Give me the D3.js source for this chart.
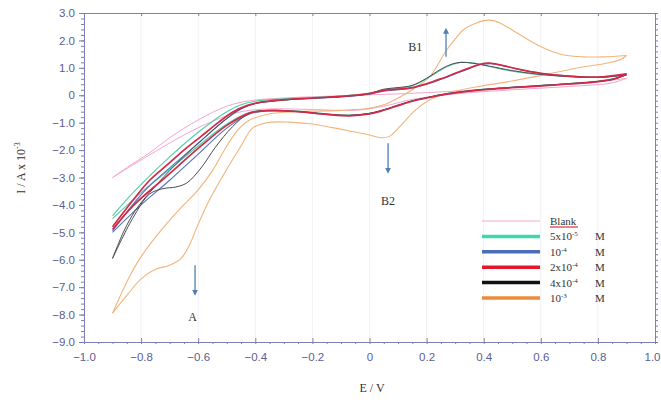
<!DOCTYPE html>
<html>
<head>
<meta charset="utf-8">
<script src="https://cdn.jsdelivr.net/npm/d3@7"></script>
<style>
  body { margin: 0; background: #fff; }
  svg { display: block; }
  .tick text { font-family: "Liberation Sans", Arial, sans-serif; font-size: 11.5px; fill: #5a5e94; }
  .serif { font-family: "Liberation Serif", "Times New Roman", serif; fill: #333; }
</style>
</head>
<body>
<script>
// cyclic voltammograms: [E (V), I (A x 10^-3)]
const blankAnodic = [[-0.9,-3.0],[-0.83,-2.5],[-0.77,-2.1],[-0.7,-1.55],[-0.6,-0.9],[-0.5,-0.4],[-0.42,-0.2],[-0.3,-0.1],[-0.1,-0.02],[0.1,0.05],[0.3,0.15],[0.5,0.28],[0.7,0.4],[0.8,0.48],[0.9,0.62]];
const blankCathodic = [[0.9,0.62],[0.85,0.45],[0.7,0.32],[0.5,0.2],[0.3,0.05],[0.15,-0.15],[0.05,-0.4],[-0.05,-0.55],[-0.2,-0.52],[-0.35,-0.5],[-0.45,-0.6],[-0.55,-0.95],[-0.65,-1.45],[-0.75,-2.05],[-0.83,-2.55],[-0.9,-3.0]];

const tealAnodic = [[-0.9,-4.4],[-0.85,-3.8],[-0.8,-3.25],[-0.7,-2.25],[-0.6,-1.35],[-0.5,-0.6],[-0.45,-0.35],[-0.4,-0.22],[-0.3,-0.13],[-0.2,-0.08],[-0.1,-0.03],[0,0.08],[0.05,0.2],[0.1,0.25],[0.15,0.35],[0.2,0.6],[0.25,0.92],[0.29,1.12],[0.32,1.2],[0.36,1.18],[0.42,1.05],[0.5,0.88],[0.6,0.75],[0.7,0.68],[0.8,0.66],[0.9,0.76]];
const tealCathodic = [[0.9,0.76],[0.85,0.6],[0.8,0.52],[0.7,0.43],[0.6,0.36],[0.45,0.26],[0.35,0.17],[0.27,0.06],[0.2,-0.08],[0.15,-0.2],[0.1,-0.36],[0.04,-0.56],[0,-0.66],[-0.07,-0.72],[-0.15,-0.68],[-0.25,-0.58],[-0.35,-0.55],[-0.42,-0.62],[-0.5,-1.05],[-0.6,-1.85],[-0.7,-2.7],[-0.8,-3.55],[-0.9,-4.5]];

const blueAnodic = [[-0.9,-4.95],[-0.83,-4.0],[-0.77,-3.3],[-0.7,-2.65],[-0.6,-1.75],[-0.5,-0.85],[-0.45,-0.5],[-0.4,-0.3],[-0.3,-0.18],[-0.2,-0.12],[-0.1,-0.06],[0,0.04],[0.05,0.15],[0.1,0.2],[0.15,0.27],[0.2,0.4],[0.25,0.58],[0.3,0.78],[0.35,0.98],[0.39,1.12],[0.43,1.15],[0.47,1.08],[0.52,0.95],[0.6,0.8],[0.7,0.7],[0.8,0.65],[0.9,0.75]];
const blueCathodic = [[0.9,0.75],[0.85,0.58],[0.8,0.5],[0.7,0.42],[0.6,0.35],[0.45,0.25],[0.35,0.16],[0.27,0.05],[0.2,-0.09],[0.15,-0.21],[0.1,-0.37],[0.04,-0.57],[0,-0.67],[-0.07,-0.74],[-0.15,-0.7],[-0.25,-0.6],[-0.35,-0.57],[-0.42,-0.68],[-0.5,-1.2],[-0.6,-2.15],[-0.7,-3.1],[-0.8,-4.0],[-0.9,-5.0]];

const redAnodic = [[-0.9,-4.8],[-0.83,-3.85],[-0.77,-3.1],[-0.71,-2.55],[-0.65,-2.0],[-0.59,-1.5],[-0.53,-1.0],[-0.48,-0.62],[-0.43,-0.38],[-0.38,-0.25],[-0.3,-0.16],[-0.2,-0.1],[-0.1,-0.04],[0,0.06],[0.05,0.18],[0.1,0.22],[0.15,0.28],[0.2,0.42],[0.25,0.6],[0.3,0.8],[0.35,1.0],[0.39,1.14],[0.42,1.17],[0.46,1.1],[0.52,0.95],[0.6,0.8],[0.7,0.7],[0.8,0.66],[0.9,0.78]];
const redCathodic = [[0.9,0.78],[0.86,0.6],[0.8,0.5],[0.7,0.41],[0.6,0.34],[0.45,0.24],[0.35,0.15],[0.27,0.04],[0.2,-0.1],[0.15,-0.22],[0.1,-0.38],[0.04,-0.58],[0,-0.68],[-0.07,-0.75],[-0.15,-0.7],[-0.25,-0.6],[-0.35,-0.56],[-0.42,-0.65],[-0.5,-1.1],[-0.59,-1.85],[-0.71,-2.95],[-0.83,-4.05],[-0.9,-4.9]];

const blackAnodic = [[-0.9,-5.95],[-0.86,-4.95],[-0.82,-4.2],[-0.77,-3.55],[-0.7,-2.75],[-0.6,-1.75],[-0.5,-0.85],[-0.45,-0.48],[-0.4,-0.3],[-0.3,-0.17],[-0.2,-0.11],[-0.1,-0.05],[0,0.06],[0.05,0.22],[0.1,0.28],[0.15,0.36],[0.2,0.62],[0.25,0.95],[0.29,1.14],[0.32,1.2],[0.36,1.17],[0.42,1.06],[0.5,0.9],[0.6,0.76],[0.7,0.68],[0.8,0.65],[0.9,0.74]];
const blackCathodic = [[0.9,0.74],[0.85,0.57],[0.8,0.5],[0.7,0.42],[0.6,0.35],[0.45,0.25],[0.35,0.16],[0.27,0.05],[0.2,-0.09],[0.15,-0.2],[0.1,-0.37],[0.04,-0.56],[0,-0.66],[-0.07,-0.73],[-0.15,-0.69],[-0.25,-0.59],[-0.35,-0.55],[-0.42,-0.65],[-0.48,-1.15],[-0.54,-1.9],[-0.59,-2.65],[-0.64,-3.2],[-0.68,-3.35],[-0.72,-3.4],[-0.77,-3.6],[-0.83,-4.5],[-0.9,-5.95]];

const orangeAnodic = [[-0.9,-7.95],[-0.87,-7.25],[-0.84,-6.6],[-0.81,-6.05],[-0.77,-5.45],[-0.72,-4.8],[-0.66,-4.1],[-0.6,-3.45],[-0.55,-2.75],[-0.5,-1.85],[-0.46,-1.25],[-0.42,-0.9],[-0.36,-0.7],[-0.3,-0.62],[-0.2,-0.58],[-0.1,-0.55],[0,-0.48],[0.05,-0.35],[0.1,-0.1],[0.15,0.2],[0.21,0.67],[0.27,1.65],[0.3,2.05],[0.33,2.4],[0.37,2.62],[0.42,2.74],[0.46,2.62],[0.5,2.38],[0.56,2.0],[0.62,1.68],[0.68,1.47],[0.75,1.4],[0.82,1.4],[0.9,1.45]];
const orangeCathodic = [[0.9,1.45],[0.88,1.3],[0.82,1.15],[0.74,1.02],[0.62,0.76],[0.5,0.52],[0.4,0.35],[0.3,0.15],[0.22,-0.12],[0.16,-0.55],[0.11,-1.1],[0.07,-1.5],[0.04,-1.55],[0,-1.45],[-0.06,-1.32],[-0.13,-1.18],[-0.2,-1.05],[-0.28,-0.98],[-0.36,-1.0],[-0.41,-1.2],[-0.45,-1.85],[-0.5,-2.7],[-0.56,-3.8],[-0.6,-4.7],[-0.63,-5.45],[-0.66,-5.95],[-0.7,-6.2],[-0.75,-6.35],[-0.8,-6.7],[-0.85,-7.3],[-0.9,-7.95]];

// legend entries: [base, exponent]
const legendLabels = [["Blank", null], ["5x10", "-5"], ["10", "-4"], ["2x10", "-4"], ["4x10", "-4"], ["10", "-3"]];
const legendColors = ["#f4a6cc", "#3fd6b0", "#4a6fb8", "#e4162a", "#111111", "#ee8c3c"];

const xTicks = [-1.0, -0.8, -0.6, -0.4, -0.2, 0, 0.2, 0.4, 0.6, 0.8, 1.0];
const yTicks = [3, 2, 1, 0, -1, -2, -3, -4, -5, -6, -7, -8, -9];

const width = 661, height = 408;
const plotLeft = 84, plotRight = 655, plotTop = 13, plotBottom = 342;

const svg = d3.select("body").append("svg")
    .attr("width", width)
    .attr("height", height);

const x = d3.scaleLinear().domain([-1, 1]).range([plotLeft, plotRight]);
const y = d3.scaleLinear().domain([-9, 3]).range([plotBottom, plotTop]);

const axisColor = "#7b7fb2";
const fmt = d => d === 0 ? "0" : d3.format(".1f")(d);

//faint vertical grid
svg.append("g")
    .selectAll("line")
    .data(xTicks.slice(1, -1))
    .enter().append("line")
    .attr("x1", d => x(d)).attr("x2", d => x(d))
    .attr("y1", plotTop).attr("y2", plotBottom)
    .attr("stroke", "#f1f1f6");

//curves, each loop = anodic + cathodic sweep
const line = d3.line()
    .x(d => x(d[0]))
    .y(d => y(d[1]))
    .curve(d3.curveCatmullRom.alpha(0.5));

const series = [
    {a: blankAnodic, c: blankCathodic, color: "#f4a6cc", w: 1},
    {a: orangeAnodic, c: orangeCathodic, color: "#f2b47c", w: 1.1},
    {a: tealAnodic, c: tealCathodic, color: "#4fcfa8", w: 1.1},
    {a: blueAnodic, c: blueCathodic, color: "#5574b6", w: 1.1},
    {a: blackAnodic, c: blackCathodic, color: "#4a4a52", w: 1},
    {a: redAnodic, c: redCathodic, color: "#cf2a48", w: 1.7}
];

const curves = svg.append("g").attr("fill", "none");
series.forEach(s => {
    curves.append("path").attr("d", line(s.a)).attr("stroke", s.color).attr("stroke-width", s.w);
    curves.append("path").attr("d", line(s.c)).attr("stroke", s.color).attr("stroke-width", s.w);
});

//axes
function styleAxis(g) {
    g.select(".domain").attr("stroke", axisColor);
    g.selectAll(".tick line").attr("stroke", axisColor);
}

const xMinor = d3.range(-1, 1.0001, 0.05);
const yMinor = d3.range(-9, 3.0001, 0.2);

svg.append("g")
    .attr("transform", `translate(0,${plotBottom})`)
    .call(d3.axisBottom(x).tickValues(xMinor).tickSize(2).tickFormat(""))
    .call(styleAxis);
const xAxis = svg.append("g")
    .attr("transform", `translate(0,${plotBottom})`)
    .call(d3.axisBottom(x).tickValues(xTicks).tickSize(-4).tickPadding(11).tickFormat(fmt))
    .call(styleAxis);
//last label sits on the window edge, nudge it inside
xAxis.selectAll(".tick text").filter(d => d === 1).attr("dx", -3);

svg.append("g")
    .attr("transform", `translate(0,${plotTop})`)
    .call(d3.axisTop(x).tickValues(xTicks).tickSize(-3).tickFormat(""))
    .call(styleAxis);

svg.append("g")
    .attr("transform", `translate(${plotLeft},0)`)
    .call(d3.axisLeft(y).tickValues(yMinor).tickSize(3).tickFormat(""))
    .call(styleAxis);
svg.append("g")
    .attr("transform", `translate(${plotLeft},0)`)
    .call(d3.axisLeft(y).tickValues(yTicks).tickSize(5).tickPadding(4).tickFormat(fmt))
    .call(styleAxis);

svg.append("g")
    .attr("transform", `translate(${plotRight},0)`)
    .call(d3.axisRight(y).tickValues(yMinor).tickSize(3).tickFormat(""))
    .call(styleAxis);

//axis titles
svg.append("text")
    .attr("class", "serif")
    .attr("x", 372).attr("y", 392)
    .attr("text-anchor", "middle")
    .attr("font-size", 12)
    .text("E / V");

const yt = svg.append("text")
    .attr("class", "serif")
    .attr("transform", "translate(25,168) rotate(-90)")
    .attr("text-anchor", "middle")
    .attr("font-size", 12);
yt.append("tspan").text("I / A x 10");
yt.append("tspan").attr("dy", -5).attr("font-size", 8).text("-3");

//peak markers
const arrowColor = "#4f7fb4";
svg.append("defs").append("marker")
    .attr("id", "head")
    .attr("viewBox", "0 0 10 10")
    .attr("refX", 5).attr("refY", 5)
    .attr("markerWidth", 6).attr("markerHeight", 6)
    .attr("markerUnits", "userSpaceOnUse")
    .attr("orient", "auto")
    .append("path")
    .attr("d", "M0,0 L10,5 L0,10 Z")
    .attr("fill", arrowColor);

const marks = [
    {label: "B1", ax: 0.268, y0: 1.4, y1: 2.35, tx: 0.16, ty: 1.6},
    {label: "B2", ax: 0.065, y0: -1.75, y1: -2.75, tx: 0.065, ty: -4.0},
    {label: "A", ax: -0.611, y0: -6.2, y1: -7.2, tx: -0.62, ty: -8.25}
];
marks.forEach(m => {
    svg.append("line")
        .attr("x1", x(m.ax)).attr("x2", x(m.ax))
        .attr("y1", y(m.y0)).attr("y2", y(m.y1))
        .attr("stroke", arrowColor)
        .attr("stroke-width", 1.3)
        .attr("marker-end", "url(#head)");
    svg.append("text")
        .attr("class", "serif")
        .attr("x", x(m.tx)).attr("y", y(m.ty))
        .attr("text-anchor", "middle")
        .attr("font-size", 12)
        .text(m.label);
});

//legend
const legendX = 482, legendY = 221, rowH = 15.4;
const legend = svg.append("g");
legendLabels.forEach((lab, i) => {
    const ly = legendY + i * rowH;
    legend.append("line")
        .attr("x1", legendX).attr("x2", legendX + 58)
        .attr("y1", ly).attr("y2", ly)
        .attr("stroke", legendColors[i])
        .attr("stroke-width", i === 0 ? 1 : 3.5);
    const t = legend.append("text")
        .attr("class", "serif")
        .attr("x", legendX + 68).attr("y", ly + 4)
        .attr("font-size", 11);
    t.append("tspan").text(lab[0]);
    if (lab[1]) {
        t.append("tspan").attr("dy", -4).attr("font-size", 7).text(lab[1]);
        legend.append("text")
            .attr("class", "serif")
            .attr("x", legendX + 113).attr("y", ly + 4)
            .attr("font-size", 11)
            .text("M");
    } else {
        //spell-check squiggle under "Blank"
        legend.append("line")
            .attr("x1", legendX + 68).attr("x2", legendX + 96)
            .attr("y1", ly + 6).attr("y2", ly + 6)
            .attr("stroke", "#d8343a")
            .attr("stroke-width", 1.2);
    }
});
</script>
</body>
</html>
